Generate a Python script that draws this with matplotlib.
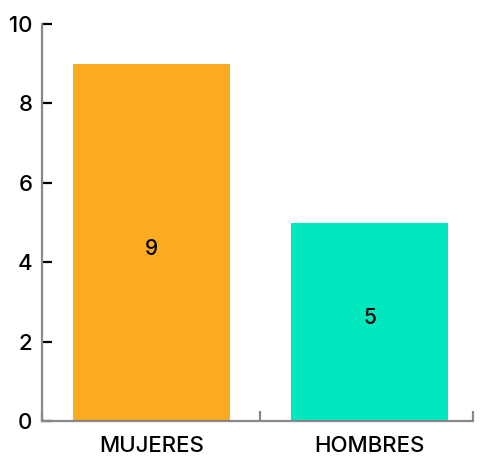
import matplotlib.pyplot as plt

categories = ['MUJERES', 'HOMBRES']
values = [9, 5]
colors = ['#FCAB1F', '#01E7BE']
y_ticks = [0, 2, 4, 6, 8, 10]

# vertical nudge of the value labels inside the bars
label_nudge = [-0.16, 0.1]

plt.rcParams['font.family'] = ['Inter', 'DejaVu Sans']
plt.rcParams['font.weight'] = 500

fig = plt.figure(figsize=(4.81, 4.59), dpi=100)
ax = fig.add_axes([42 / 481, 38 / 459, 431 / 481, 397 / 459])

x = list(range(len(categories)))
bars = ax.bar(x, values, width=0.72, color=colors, zorder=2)

for b, v, dy in zip(bars, values, label_nudge):
    ax.text(b.get_x() + b.get_width() / 2, v / 2 + dy, str(v),
            ha='center', va='center', fontsize=15, color='black')

x_right = 1.475
ax.set_xlim(-0.502, x_right)
ax.set_ylim(0, 10)

for side in ['top', 'right']:
    ax.spines[side].set_visible(False)
for side in ['left', 'bottom']:
    ax.spines[side].set_color('#888888')
    ax.spines[side].set_linewidth(1.6)

ax.set_yticks(y_ticks)
ax.set_yticklabels([str(t) for t in y_ticks], fontsize=16)
ax.tick_params(axis='y', direction='in', length=7.5, width=1.6, color='black', pad=7)
ax.yaxis.get_major_ticks()[-1].tick1line.set_color('#888888')

# category boundaries as tick marks, labels under the bars
ax.set_xticks([-0.502, 0.5, x_right])
ax.set_xticklabels([])
ax.tick_params(axis='x', direction='in', length=7.5, width=1.6, color='#888888')
for xi, name in zip(x, categories):
    ax.text(xi, -0.38, name, ha='center', va='top', fontsize=16,
            transform=ax.transData, clip_on=False)

fig.savefig('out.png', dpi=100)
